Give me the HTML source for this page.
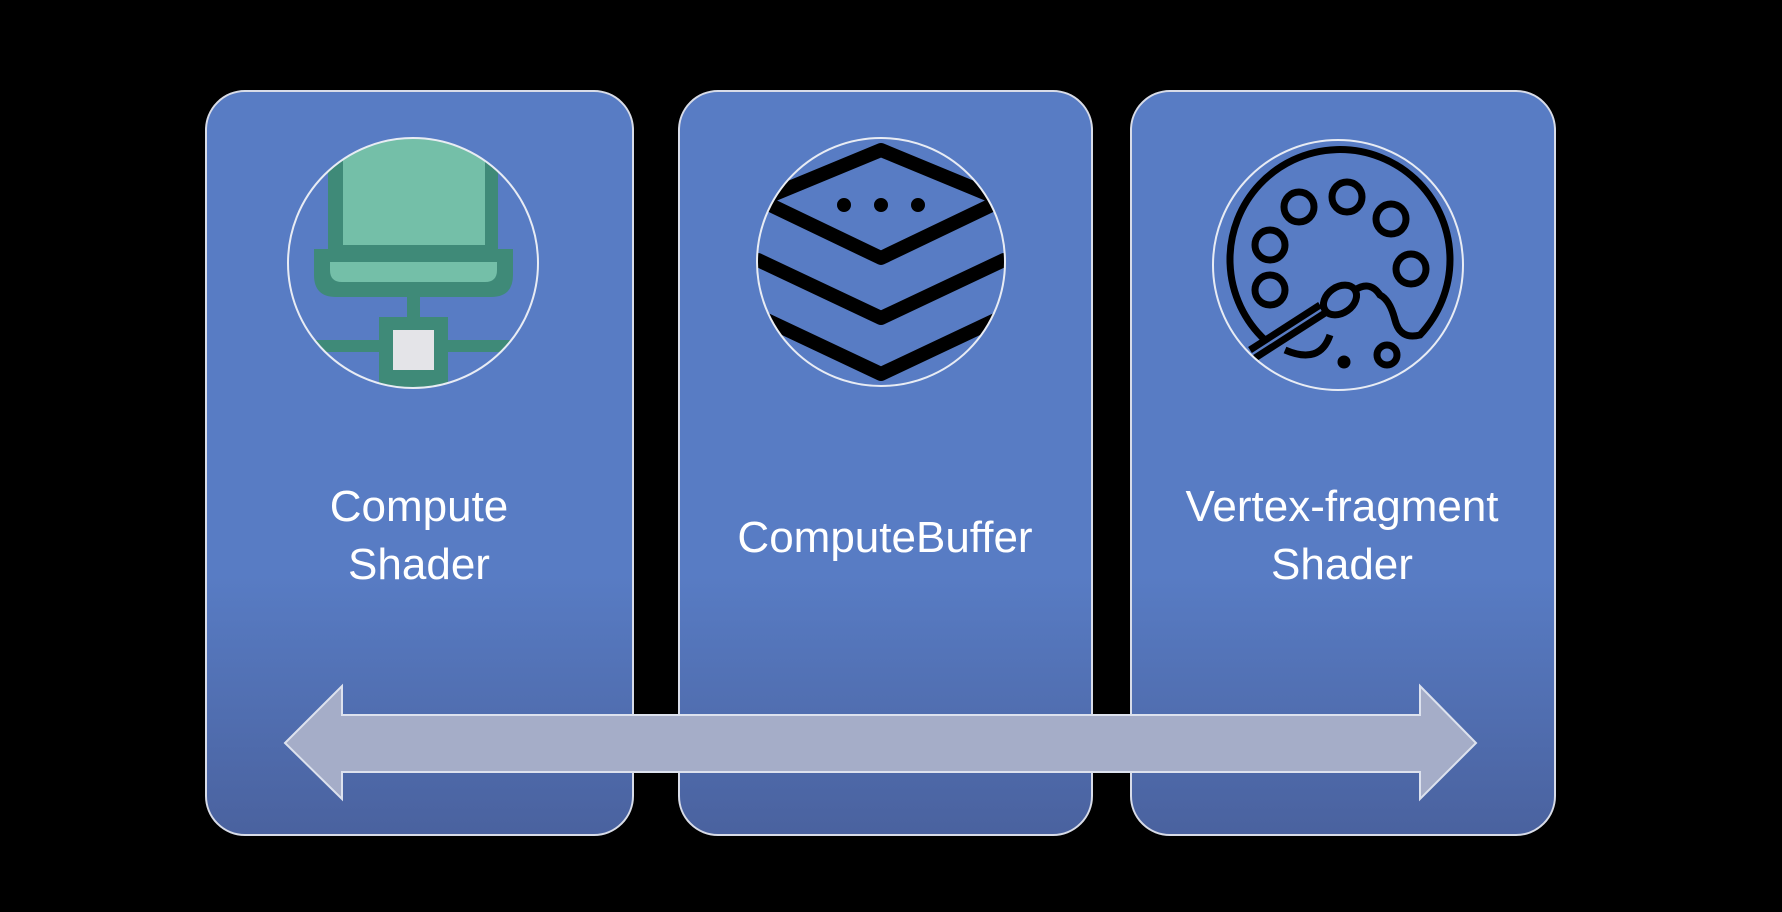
<!DOCTYPE html>
<html><head><style>
body{margin:0;background:#000;width:1782px;height:912px;overflow:hidden;position:relative;font-family:"Liberation Sans",sans-serif}
.p{position:absolute;top:90px;height:746px;border:2px solid #d8dce8;border-radius:40px;box-sizing:border-box;background:linear-gradient(#587cc4 0%,#587cc4 65%,#4a629f 100%)}
.t{position:absolute;color:#fff;font-size:44px;text-align:center;line-height:58px;transform:translateX(-50%);white-space:nowrap}
</style></head><body>
<div class="p" style="left:205px;width:429px"></div>
<div class="p" style="left:678px;width:415px"></div>
<div class="p" style="left:1130px;width:426px"></div>
<svg width="1782" height="912" style="position:absolute;left:0;top:0">
<defs>
<clipPath id="c1"><circle cx="413" cy="263" r="125"/></clipPath>
<clipPath id="c2"><circle cx="881" cy="262" r="124"/></clipPath>
<clipPath id="c3"><circle cx="1338" cy="265" r="125"/></clipPath>
</defs>
<g clip-path="url(#c1)">
<rect x="328" y="130" width="170" height="125" fill="#3f8a78"/>
<rect x="343" y="130" width="142" height="115" fill="#74bfa8"/>
<path d="M314 249 H513 V275 Q513 297 491 297 H336 Q314 297 314 275Z" fill="#3f8a78"/>
<path d="M330 262 H497 V270 Q497 282 485 282 H342 Q330 282 330 270Z" fill="#74bfa8"/>
<rect x="407" y="296" width="13" height="24" fill="#3f8a78"/>
<rect x="280" y="340" width="270" height="12" fill="#3f8a78"/>
<rect x="379" y="317" width="69" height="80" fill="#3f8a78"/>
<rect x="393" y="330" width="41" height="40" fill="#e4e4e8"/>
</g>
<circle cx="413" cy="263" r="125" fill="none" stroke="#e8ecf4" stroke-width="2"/>
<g clip-path="url(#c2)" fill="none" stroke="#000" stroke-width="14" stroke-linejoin="round" stroke-linecap="round">
<path d="M760 200 L881 150 L1002 200 L881 258Z"/>
<path d="M758 260 L881 318 L1004 260"/>
<path d="M758 316 L881 374 L1004 316"/>
<circle cx="844" cy="205" r="5" fill="#000" stroke-width="4"/>
<circle cx="881" cy="205" r="5" fill="#000" stroke-width="4"/>
<circle cx="918" cy="205" r="5" fill="#000" stroke-width="4"/>
</g>
<circle cx="881" cy="262" r="124" fill="none" stroke="#e8ecf4" stroke-width="2"/>
<g clip-path="url(#c3)" fill="none" stroke="#000" stroke-width="7">
<path d="M1265 340 A110 110 0 1 1 1420 335 Q1400 340 1395 320 Q1390 300 1380 295 Q1370 280 1355 290"/>
<circle cx="1299" cy="207" r="15"/><circle cx="1347" cy="197" r="15"/><circle cx="1391" cy="219" r="15"/>
<circle cx="1270" cy="245" r="15"/><circle cx="1411" cy="269" r="15"/><circle cx="1270" cy="290" r="15"/>
<circle cx="1387" cy="355" r="10"/>
<path d="M1250 350 L1320 305"/><path d="M1255 358 L1325 313"/>
<ellipse cx="1340" cy="300" rx="18" ry="13" transform="rotate(-35 1340 300)"/>
<path d="M1285 350 Q1320 365 1330 335"/>
<circle cx="1344" cy="362" r="3" fill="#000"/>
</g>
<circle cx="1338" cy="265" r="125" fill="none" stroke="#e8ecf4" stroke-width="2"/>
<polygon points="285,743 342,686 342,715 1420,715 1420,686 1476,743 1420,799 1420,772 342,772 342,799" fill="#a5adc8" stroke="#dde2ee" stroke-width="2"/>
</svg>
<div class="t" style="left:419px;top:478px">Compute<br>Shader</div>
<div class="t" style="left:885px;top:509px">ComputeBuffer</div>
<div class="t" style="left:1342px;top:478px">Vertex-fragment<br>Shader</div>
</body></html>
